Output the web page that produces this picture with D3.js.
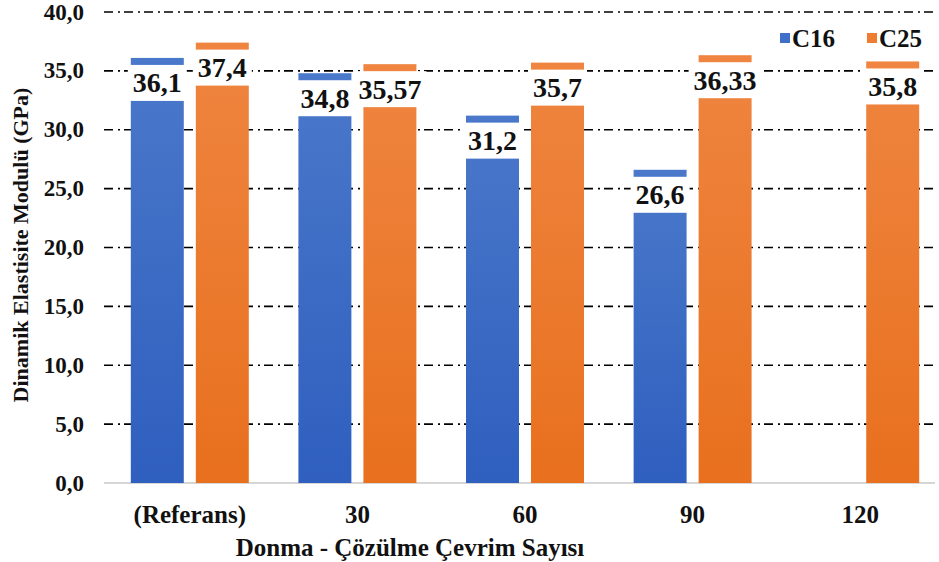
<!DOCTYPE html>
<html>
<head>
<meta charset="utf-8">
<script src="https://cdn.jsdelivr.net/npm/d3@7"></script>
<style>
  html, body { margin: 0; padding: 0; background: #fff; }
  svg { display: block; }
  text { font-family: "Liberation Serif", "Times New Roman", serif; font-weight: bold; fill: #111; }
</style>
</head>
<body>
<svg id="chart" width="939" height="562"></svg>
<script>
// Freeze–thaw cycles and dynamic modulus of elasticity (GPa)
const categories = ["(Referans)", "30", "60", "90", "120"];
const seriesNames = ["C16", "C25"];
const c16Values = [36.1, 34.8, 31.2, 26.6, null];
const c25Values = [37.4, 35.57, 35.7, 36.33, 35.8];
const yTicks = [0, 5, 10, 15, 20, 25, 30, 35, 40];

const seriesValues = { C16: c16Values, C25: c25Values };
const colors = {
  C16: { top: "#4a78ca", bottom: "#2f5fbf", legend: "#3f6fc8" },
  C25: { top: "#ef8540", bottom: "#e8701e", legend: "#ee7d32" }
};

const svg = d3.select("#chart");
const fmt = v => String(v).replace(".", ",");
const fmtTick = v => v.toFixed(1).replace(".", ",");

const plot = { left: 104, right: 935 };
const y = d3.scaleLinear().domain([0, 40]).range([483, 12]);
const x0 = d3.scaleBand().domain(categories).range([106, 944])
  .paddingInner(0.296).paddingOuter(0.148);
const x1 = d3.scaleBand().domain(seriesNames).range([0, x0.bandwidth()])
  .paddingInner(0.185).paddingOuter(0);

// gradients for bars
const defs = svg.append("defs");
seriesNames.forEach(s => {
  const g = defs.append("linearGradient").attr("id", "grad-" + s)
    .attr("x1", 0).attr("y1", 0).attr("x2", 0).attr("y2", 1);
  g.append("stop").attr("offset", "0%").attr("stop-color", colors[s].top);
  g.append("stop").attr("offset", "100%").attr("stop-color", colors[s].bottom);
});

// dash-dot gridlines
svg.append("g").selectAll("line")
  .data(yTicks.filter(t => t > 0))
  .join("line")
  .attr("x1", plot.left).attr("x2", plot.right)
  .attr("y1", d => y(d)).attr("y2", d => y(d))
  .attr("stroke", "#000").attr("stroke-width", 1.6)
  .attr("stroke-dasharray", "9,5,2,4");

// baseline
svg.append("line")
  .attr("x1", plot.left).attr("x2", plot.right)
  .attr("y1", y(0)).attr("y2", y(0))
  .attr("stroke", "#c8c8c8").attr("stroke-width", 1.5);

// y tick labels
svg.append("g").selectAll("text")
  .data(yTicks)
  .join("text")
  .attr("x", 84).attr("y", d => y(d))
  .attr("text-anchor", "end").attr("dominant-baseline", "central")
  .style("font-size", "23px")
  .text(fmtTick);

// bars
const rows = [];
categories.forEach((c, i) => {
  seriesNames.forEach(s => {
    const v = seriesValues[s][i];
    if (v != null) rows.push({ cat: c, series: s, value: v });
  });
});

svg.append("g").selectAll("rect")
  .data(rows)
  .join("rect")
  .attr("x", d => x0(d.cat) + x1(d.series))
  .attr("y", d => y(d.value))
  .attr("width", x1.bandwidth())
  .attr("height", d => y(0) - y(d.value))
  .attr("fill", d => `url(#grad-${d.series})`);

// value labels in white boxes
const labels = svg.append("g").selectAll("g")
  .data(rows)
  .join("g")
  .attr("transform", d => `translate(${x0(d.cat) + x1(d.series) + x1.bandwidth() / 2},${y(d.value) + 25})`);

labels.append("text")
  .attr("text-anchor", "middle").attr("dominant-baseline", "central")
  .style("font-size", "28px")
  .text(d => fmt(d.value));

labels.each(function () {
  const g = d3.select(this);
  const bb = g.select("text").node().getBBox();
  const w = Math.max(bb.width + 10, 57);
  g.insert("rect", "text")
    .attr("x", -w / 2).attr("y", -18)
    .attr("width", w).attr("height", 36)
    .attr("fill", "#fff");
});

// x tick labels
svg.append("g").selectAll("text")
  .data(categories)
  .join("text")
  .attr("x", d => x0(d) + x0.bandwidth() / 2)
  .attr("y", 514)
  .attr("text-anchor", "middle").attr("dominant-baseline", "central")
  .style("font-size", "25px")
  .text(d => d);

// axis titles
svg.append("text")
  .attr("x", 410).attr("y", 547)
  .attr("text-anchor", "middle").attr("dominant-baseline", "central")
  .style("font-size", "25px")
  .text("Donma - Çözülme Çevrim Sayısı");

svg.append("text")
  .attr("transform", "translate(20,245) rotate(-90)")
  .attr("text-anchor", "middle").attr("dominant-baseline", "central")
  .style("font-size", "22px")
  .text("Dinamik Elastisite Modulü (GPa)");

// legend
const legend = svg.append("g").selectAll("g")
  .data(seriesNames)
  .join("g")
  .attr("transform", (d, i) => `translate(${780 + i * 87},38)`);
legend.append("rect")
  .attr("x", 0).attr("y", -5).attr("width", 10).attr("height", 10)
  .attr("fill", d => colors[d].legend);
legend.append("text")
  .attr("x", 12).attr("y", 0)
  .attr("dominant-baseline", "central")
  .style("font-size", "25px")
  .text(d => d);
</script>
</body>
</html>
